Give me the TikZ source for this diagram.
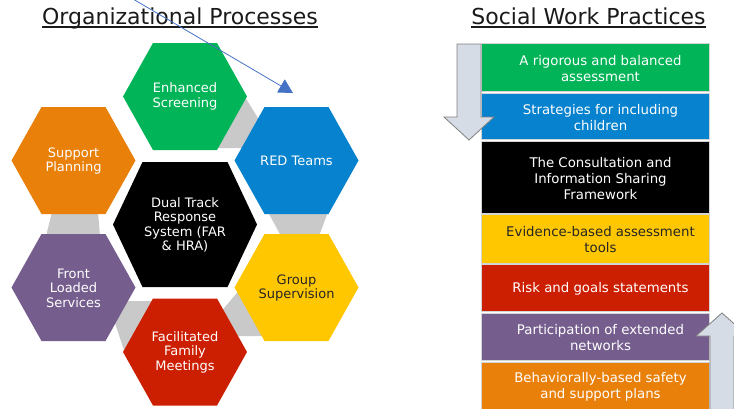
\documentclass[tikz,border=0pt]{standalone}
\usepackage{fontspec}
\setmainfont{DejaVu Sans}
\usetikzlibrary{arrows.meta}
\definecolor{cgreen}{HTML}{00B457}
\definecolor{cblue}{HTML}{0682CE}
\definecolor{cyellow}{HTML}{FFC700}
\definecolor{cred}{HTML}{CC1E00}
\definecolor{cpurple}{HTML}{755D8D}
\definecolor{corange}{HTML}{E8800A}
\definecolor{linkgray}{HTML}{C9C9C9}
\definecolor{sepgray}{HTML}{D4D4D4}
\definecolor{arrowfill}{HTML}{D6DCE5}
\definecolor{arrowline}{HTML}{808080}
\definecolor{ptrblue}{HTML}{4472C4}
\definecolor{titlecol}{HTML}{1A1A1A}
\definecolor{darktext}{HTML}{262626}
% cx, cy, half width, half height, corner indent, colour
\newcommand{\HexFill}[6]{%
  \fill[#6] ({#1-#3},{#2}) -- ({#1-#3+#5},{#2-#4}) -- ({#1+#3-#5},{#2-#4})
    -- ({#1+#3},{#2}) -- ({#1+#3-#5},{#2+#4}) -- ({#1-#3+#5},{#2+#4}) -- cycle;}
\begin{document}
\begin{tikzpicture}[x=1pt,y=-1pt,
  hextext/.style={text=white, align=center, font=\fontsize{13}{14.5}\selectfont, inner sep=0pt},
  boxshape/.style={draw=sepgray, line width=1pt, minimum width=228pt, inner sep=0pt, anchor=north west},
  boxtext/.style={text=white, align=center, font=\fontsize{13.3}{15.8}\selectfont, inner sep=0pt},
  titletext/.style={font=\fontsize{22}{26}\selectfont, text=titlecol, inner sep=0pt, anchor=base},
  bigarrow/.style={fill=arrowfill, draw=arrowline, line width=0.8pt, line join=miter},
  linkshape/.style={fill=linkgray},
  pointer/.style={draw=ptrblue, line width=0.8pt, -{Triangle[length=14pt,width=15pt]}}]
\useasboundingbox (0,0) rectangle (734,408);

% titles
\node[titletext] (optitle) at (180,24) {Organizational Processes};
\draw[titlecol, line width=1.1pt] ([yshift=-3pt]optitle.base west) -- ([yshift=-3pt]optitle.base east);
\node[titletext] (swtitle) at (588.5,24) {Social Work Practices};
\draw[titlecol, line width=1.1pt] ([yshift=-3pt]swtitle.base west) -- ([yshift=-3pt]swtitle.base east);

% grey links between hexagons
\fill[linkshape] (245,97) -- (261,123) -- (245,148) -- (215,148) -- cycle;
\fill[linkshape] (52,212) -- (98,212) -- (100,236) -- (46,236) -- cycle;
\fill[linkshape] (268,212) -- (328,212) -- (319,236) -- (281,236) -- cycle;
\fill[linkshape] (124,301) -- (158,301) -- (125,353) -- (111,311) -- cycle;
\fill[linkshape] (219,314) -- (242,287) -- (266,336) -- (230,336) -- cycle;

% hexagons
\HexFill{185}{96.5}{62}{53.5}{30}{cgreen}
\HexFill{73.5}{160.5}{62}{53.5}{30}{corange}
\HexFill{296.5}{160.5}{62}{53.5}{30}{cblue}
\HexFill{185}{224.5}{72}{62.5}{29.5}{black}
\HexFill{73.5}{287.5}{62}{53.5}{30}{cpurple}
\HexFill{296.5}{287.5}{62}{53.5}{30}{cyellow}
\HexFill{185}{352}{62}{53.5}{30}{cred}

\node[hextext] (es) at (185,96.5) {Enhanced\\Screening};
\node[hextext] (sp) at (73.5,161) {Support\\Planning};
\node[hextext] (red) at (296.5,161) {RED Teams};
\node[hextext] (dual) at (185,225) {Dual Track\\Response\\System (FAR\\\& HRA)};
\node[hextext] (fls) at (73.5,288) {Front\\Loaded\\Services};
\node[hextext, text=darktext] (gs) at (296.5,288) {Group\\Supervision};
\node[hextext] (ffm) at (185,352) {Facilitated\\Family\\Meetings};

% right column boxes
\node[boxshape, fill=cgreen,  minimum height=48pt]   (b1) at (481,43) {};
\node[boxshape, fill=cblue,   minimum height=46.5pt] (b2) at (481,92.5) {};
\node[boxshape, fill=black,   minimum height=71.5pt] (b3) at (481,141) {};
\node[boxshape, fill=cyellow, minimum height=48.5pt] (b4) at (481,214) {};
\node[boxshape, fill=cred,    minimum height=47pt]   (b5) at (481,264) {};
\node[boxshape, fill=cpurple, minimum height=47.5pt] (b6) at (481,312.5) {};
\node[boxshape, fill=corange, minimum height=47pt]   (b7) at (481,361.5) {};

\node[boxtext] (t1) at ([xshift=5pt,yshift=-1pt]b1.center) {A rigorous and balanced\\assessment};
\node[boxtext] (t2) at ([xshift=5pt,yshift=-1pt]b2.center) {Strategies for including\\children};
\node[boxtext] (t3) at ([xshift=5pt,yshift=-1pt]b3.center) {The Consultation and\\Information Sharing\\Framework};
\node[boxtext, text=darktext] (t4) at ([xshift=5pt,yshift=-1pt]b4.center) {Evidence-based assessment\\tools};
\node[boxtext] (t5) at ([xshift=5pt,yshift=-1pt]b5.center) {Risk and goals statements};
\node[boxtext] (t6) at ([xshift=5pt,yshift=-1pt]b6.center) {Participation of extended\\networks};
\node[boxtext] (t7) at ([xshift=5pt,yshift=-1pt]b7.center) {Behaviorally-based safety\\and support plans};

% big block arrows
\draw[bigarrow] (457,44) -- (481,44) -- (481,117) -- (494,117) -- (469,140) -- (444,117) -- (457,117) -- cycle;
\draw[bigarrow] (710,412) -- (710,336) -- (696,336) -- (722,313) -- (748,336) -- (734,336) -- (734,412) -- cycle;

% blue pointer
\coordinate (ptrstart) at (133,-1);
\coordinate (ptrend) at (293,93);
\draw[pointer] (ptrstart) -- (ptrend);
\end{tikzpicture}
\end{document}
